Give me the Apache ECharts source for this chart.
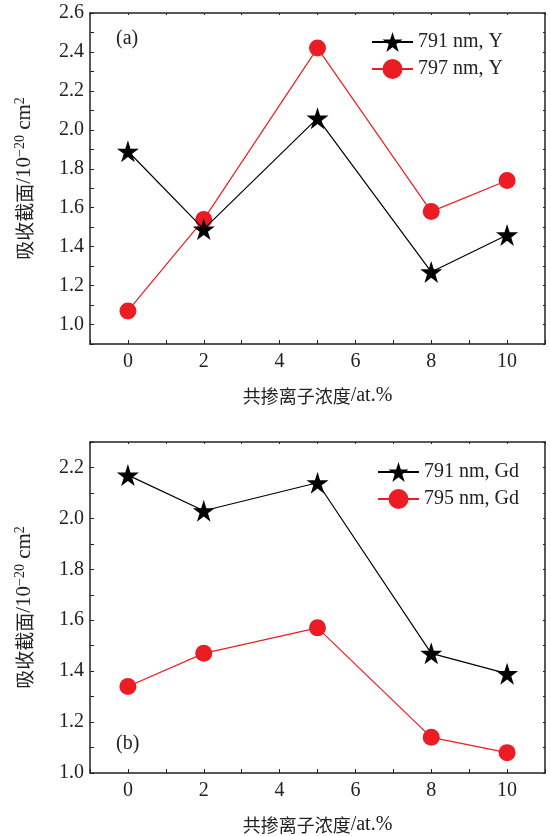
<!DOCTYPE html>
<html>
<head>
<meta charset="utf-8">
<script src="https://cdn.jsdelivr.net/npm/echarts@6/dist/echarts.min.js"></script>
<style>
  html, body { margin: 0; padding: 0; background: #fff; }
  #chart { width: 550px; height: 836px; }
</style>
</head>
<body>
<div id="chart"></div>
<script>
// Co-doping concentration (at.%)
const dopingLevels = [0, 2, 5, 8, 10];

// Absorption cross sections, 10^-20 cm^2 — Y co-doped
const absY791 = [1.89, 1.49, 2.06, 1.27, 1.46];
const absY797 = [1.07, 1.54, 2.42, 1.58, 1.74];

// Absorption cross sections, 10^-20 cm^2 — Gd co-doped
const absGd791 = [2.17, 2.03, 2.14, 1.47, 1.39];
const absGd795 = [1.34, 1.47, 1.57, 1.14, 1.08];

const seriesNames = ['791 nm, Y', '797 nm, Y', '791 nm, Gd', '795 nm, Gd'];
const panelTags = ['(a)', '(b)'];

const SERIF = '"Liberation Serif", "DejaVu Serif", serif';
const CJK = '"Noto Sans CJK SC", "Liberation Serif", serif';
const STAR = 'path://M50,0 L61.2,34.5 L97.6,34.5 L68.2,55.9 L79.4,90.5 L50,69.1 L20.6,90.5 L31.8,55.9 L2.4,34.5 L38.8,34.5 Z';
const RED = '#ec1c24';
const AXIS_COLOR = '#222';
const TEXT_COLOR = '#222';

const pair = (xs, ys) => xs.map((x, i) => [x, ys[i]]);

const grids = [
  { left: 90, top: 13, width: 455, height: 331 },
  { left: 90, top: 442, width: 455, height: 331 }
];

function xAxes(gridIndex) {
  const base = {
    type: 'value', gridIndex, min: -1, max: 11, interval: 1,
    splitLine: { show: false },
    axisLine: { show: true, onZero: false, lineStyle: { color: AXIS_COLOR, width: 1.5 } }
  };
  return [
    Object.assign({}, base, {
      position: 'bottom',
      axisTick: { show: true, inside: true, length: 4, lineStyle: { color: AXIS_COLOR } },
      axisLabel: {
        margin: 8, fontFamily: SERIF, fontSize: 20, color: TEXT_COLOR,
        formatter: v => (v >= 0 && v <= 10 && v % 2 === 0) ? String(v) : ''
      },
      name: '{cn|共掺离子浓度}{n|/at.%}', nameLocation: 'middle', nameGap: 42,
      nameTextStyle: {
        rich: {
          cn: { fontFamily: CJK, fontSize: 18, color: TEXT_COLOR },
          n: { fontFamily: SERIF, fontSize: 20, color: TEXT_COLOR }
        }
      }
    }),
    Object.assign({}, base, {
      position: 'top',
      axisTick: { show: true, inside: true, length: 2, lineStyle: { color: AXIS_COLOR } },
      axisLabel: { show: false }
    })
  ];
}

function yAxes(gridIndex, min, max) {
  const base = {
    type: 'value', gridIndex, min, max, interval: 0.1,
    splitLine: { show: false },
    axisLine: { show: true, onZero: false, lineStyle: { color: AXIS_COLOR, width: 1.5 } }
  };
  return [
    Object.assign({}, base, {
      position: 'left',
      axisTick: { show: true, inside: true, length: 4, lineStyle: { color: AXIS_COLOR } },
      axisLabel: {
        margin: 6, fontFamily: SERIF, fontSize: 20, color: TEXT_COLOR,
        formatter: v => {
          const t = Math.round(v * 10);
          return (t % 2 === 0 && t >= 10) ? (t / 10).toFixed(1) : '';
        }
      },
      name: '{cn|吸收截面}{n|/10}{sup|−20}{n| cm}{sup|2}',
      nameLocation: 'middle', nameRotate: 90, nameGap: 54,
      nameTextStyle: {
        rich: {
          cn: { fontFamily: CJK, fontSize: 19, color: TEXT_COLOR },
          n: { fontFamily: SERIF, fontSize: 21, color: TEXT_COLOR },
          sup: { fontFamily: SERIF, fontSize: 14, color: TEXT_COLOR, verticalAlign: 'top', padding: [0, 0, 9, 0] }
        }
      }
    }),
    Object.assign({}, base, {
      position: 'right',
      axisTick: { show: true, inside: true, length: 2, lineStyle: { color: AXIS_COLOR } },
      axisLabel: { show: false }
    })
  ];
}

function lineSeries(name, idx, data, isStar) {
  return {
    name, type: 'line', xAxisIndex: idx * 2, yAxisIndex: idx * 2,
    data,
    symbol: isStar ? STAR : 'circle',
    symbolSize: isStar ? 22 : 17,
    lineStyle: { color: isStar ? '#000' : RED, width: 1.2 },
    itemStyle: { color: isStar ? '#000' : RED },
    z: isStar ? 3 : 2,
    animation: false
  };
}

const legendBase = {
  orient: 'vertical', padding: 0, itemWidth: 41, itemHeight: 25, itemGap: 7,
  textStyle: { fontFamily: SERIF, fontSize: 20, color: TEXT_COLOR }
};

const tagStyle = { fontFamily: SERIF, fontSize: 20, fontWeight: 'normal', color: TEXT_COLOR };

const option = {
  animation: false,
  grid: grids,
  xAxis: [...xAxes(0), ...xAxes(1)],
  yAxis: [...yAxes(0, 0.9, 2.6), ...yAxes(1, 1.0, 2.3)],
  legend: [
    Object.assign({}, legendBase, { left: 371, top: 32, data: [seriesNames[0], seriesNames[1]] }),
    Object.assign({}, legendBase, { left: 377, top: 462, data: [seriesNames[2], seriesNames[3]] })
  ],
  title: [
    { text: panelTags[0], left: 116, top: 29, textStyle: tagStyle, padding: 0 },
    { text: panelTags[1], left: 116, top: 734, textStyle: tagStyle, padding: 0 }
  ],
  series: [
    lineSeries(seriesNames[0], 0, pair(dopingLevels, absY791), true),
    lineSeries(seriesNames[1], 0, pair(dopingLevels, absY797), false),
    lineSeries(seriesNames[2], 1, pair(dopingLevels, absGd791), true),
    lineSeries(seriesNames[3], 1, pair(dopingLevels, absGd795), false)
  ]
};

const chart = echarts.init(document.getElementById('chart'), null, { renderer: 'canvas' });
chart.setOption(option);
</script>
</body>
</html>
